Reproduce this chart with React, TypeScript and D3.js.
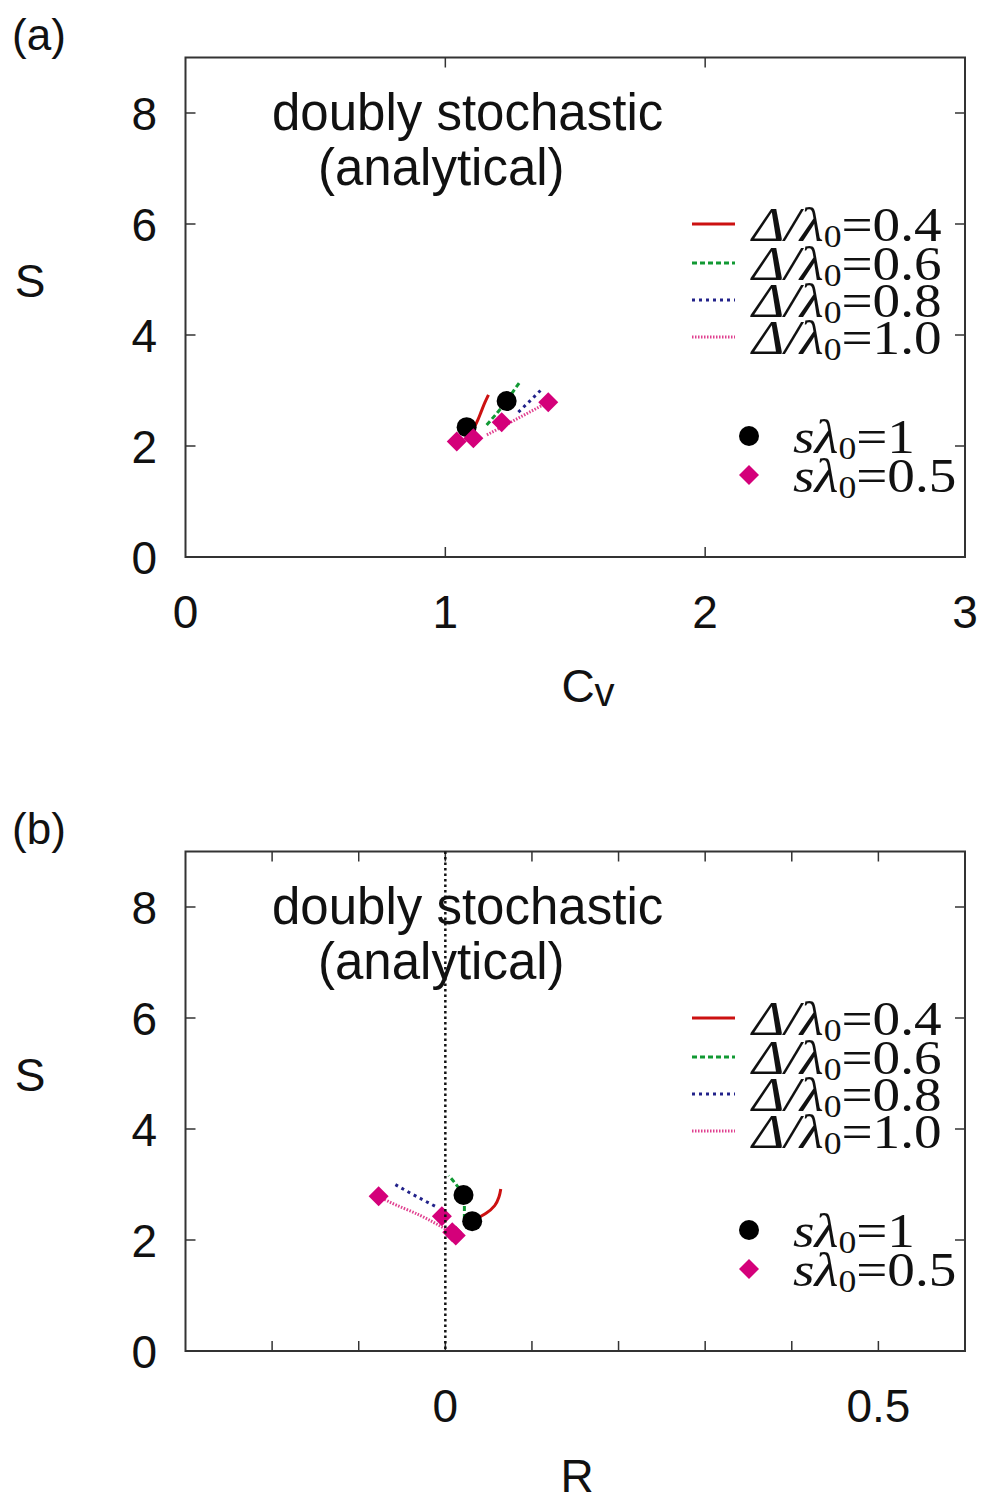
import React from "react";
import * as d3 from "d3";

// ---- data ----
const cvTicks = [0, 1, 2, 3];
const rLabelTicks = [0, 0.5];
const rMinorTicks = [-0.2, -0.1, 0, 0.1, 0.2, 0.3, 0.4, 0.5];
const sTicks = [0, 2, 4, 6, 8];
const deltaLabels = ["0.4", "0.6", "0.8", "1.0"];
const sLambdaLabels = ["1", "0.5"];

// curves (Δ/λ0 = 0.4, 0.6, 0.8, 1.0): Cv, R, S
const red_Cv = [1.114, 1.126, 1.138, 1.152, 1.166];
const red_R = [0.033, 0.047, 0.057, 0.062, 0.064];
const red_S = [2.36, 2.48, 2.62, 2.78, 2.92];

const green_Cv = [1.159, 1.2, 1.236, 1.262, 1.288];
const green_R = [0.022, 0.022, 0.021, 0.013, 0.004];
const green_S = [2.38, 2.6, 2.81, 2.99, 3.16];

const blue_Cv = [1.281, 1.323, 1.366];
const blue_R = [-0.012, -0.035, -0.058];
const blue_S = [2.61, 2.8, 3.0];

const pink_Cv = [1.16, 1.26, 1.356, 1.396];
const pink_R = [0.0, -0.03, -0.065, -0.077];
const pink_S = [2.2, 2.45, 2.69, 2.79];

// markers: sλ0 = 1 (circles), sλ0 = 0.5 (diamonds)
const circ_Cv = [1.082, 1.236];
const circ_R = [0.031, 0.021];
const circ_S = [2.34, 2.81];

const diam_Cv = [1.044, 1.108, 1.217, 1.396];
const diam_R = [0.012, 0.008, -0.004, -0.077];
const diam_S = [2.08, 2.14, 2.43, 2.79];

// ---- styles ----
const curveStyles = [
  { color: "#cc1111", dash: "none" },
  { color: "#119933", dash: "5,3" },
  { color: "#22228a", dash: "3,4" },
  { color: "#e0408f", dash: "1.5,1.5" },
];
const DIAM = "#d4007a";
const SANS = "'Liberation Sans', Arial, sans-serif";
const SERIF = "'Liberation Serif', 'Times New Roman', serif";

type PanelProps = {
  off: number;
  letter: string;
  mode: "cv" | "r";
};

function Panel({ off, letter, mode }: PanelProps) {
  const L = 185.5, R = 965, T = 57.5 + off, B = 557 + off;
  const x =
    mode === "cv"
      ? d3.scaleLinear().domain([0, 3]).range([L, R])
      : d3.scaleLinear().domain([-0.3, 0.6]).range([L, R]);
  const y = d3.scaleLinear().domain([0, 9]).range([B, T]);

  const curves =
    mode === "cv"
      ? [
          [red_Cv, red_S],
          [green_Cv, green_S],
          [blue_Cv, blue_S],
          [pink_Cv, pink_S],
        ]
      : [
          [red_R, red_S],
          [green_R, green_S],
          [blue_R, blue_S],
          [pink_R, pink_S],
        ];
  const line = d3
    .line<[number, number]>()
    .x((d) => x(d[0]))
    .y((d) => y(d[1]))
    .curve(d3.curveMonotoneY);

  const cx = mode === "cv" ? circ_Cv : circ_R;
  const dx = mode === "cv" ? diam_Cv : diam_R;

  const xTickVals = mode === "cv" ? [1, 2] : rMinorTicks;
  const xLabelVals = mode === "cv" ? cvTicks : rLabelTicks;
  const tickLen = 10;
  const frame = "#333";

  const legY = [224, 263, 300, 337].map((v) => v + off);
  const mkY = [436, 475].map((v) => v + off);

  const dPath = (px: number, py: number, h: number) =>
    `M${px},${py - h}L${px + h},${py}L${px},${py + h}L${px - h},${py}Z`;

  return (
    <g>
      <text x={12} y={50 + off} fontFamily={SANS} fontSize={44} fill="#111">
        ({letter})
      </text>
      {/* title */}
      <text x={272} y={130 + off} fontFamily={SANS} fontSize={51} fill="#111">
        doubly stochastic
      </text>
      <text x={318} y={185 + off} fontFamily={SANS} fontSize={51} fill="#111">
        (analytical)
      </text>

      {/* frame and ticks */}
      <rect x={L} y={T} width={R - L} height={B - T} fill="none" stroke={frame} strokeWidth={2} />
      {xTickVals.map((v) => (
        <g key={"xt" + v}>
          <line x1={x(v)} x2={x(v)} y1={B} y2={B - tickLen} stroke={frame} strokeWidth={1.5} />
          <line x1={x(v)} x2={x(v)} y1={T} y2={T + tickLen} stroke={frame} strokeWidth={1.5} />
        </g>
      ))}
      {sTicks
        .filter((v) => v > 0)
        .map((v) => (
          <g key={"yt" + v}>
            <line x1={L} x2={L + tickLen} y1={y(v)} y2={y(v)} stroke={frame} strokeWidth={1.5} />
            <line x1={R} x2={R - tickLen} y1={y(v)} y2={y(v)} stroke={frame} strokeWidth={1.5} />
          </g>
        ))}
      {sTicks.map((v) => (
        <text
          key={"yl" + v}
          x={157}
          y={y(v)}
          dy="0.36em"
          textAnchor="end"
          fontFamily={SANS}
          fontSize={46}
          fill="#111"
        >
          {v}
        </text>
      ))}
      {xLabelVals.map((v) => (
        <text
          key={"xl" + v}
          x={x(v)}
          y={628 + off}
          textAnchor="middle"
          fontFamily={SANS}
          fontSize={46}
          fill="#111"
        >
          {v}
        </text>
      ))}
      {/* axis labels */}
      <text x={30} y={297 + off} textAnchor="middle" fontFamily={SANS} fontSize={46} fill="#111">
        S
      </text>
      {mode === "cv" ? (
        <text x={588} y={702 + off} textAnchor="middle" fontFamily={SANS} fontSize={46} fill="#111">
          C<tspan fontSize={40} dy={4}>v</tspan>
        </text>
      ) : (
        <text x={577} y={1492} textAnchor="middle" fontFamily={SANS} fontSize={46} fill="#111">
          R
        </text>
      )}

      {/* curves */}
      {curves.map((c, i) => {
        const pts = c[0].map((v, k) => [v, c[1][k]] as [number, number]);
        return (
          <path
            key={"c" + i}
            d={line(pts) || ""}
            fill="none"
            stroke={curveStyles[i].color}
            strokeWidth={3}
            strokeDasharray={curveStyles[i].dash}
          />
        );
      })}
      {/* markers */}
      {cx.map((v, i) => (
        <circle key={"ci" + i} cx={x(v)} cy={y(circ_S[i])} r={10} fill="#000" />
      ))}
      {dx.map((v, i) => (
        <path key={"di" + i} d={dPath(x(v), y(diam_S[i]), 10)} fill={DIAM} />
      ))}

      {mode === "r" && (
        <line
          x1={x(0)}
          x2={x(0)}
          y1={T}
          y2={B}
          stroke="#111"
          strokeWidth={2.5}
          strokeDasharray="2.5,3"
        />
      )}

      {/* legend */}
      {deltaLabels.map((lab, i) => (
        <g key={"lg" + i}>
          <line
            x1={692}
            x2={735}
            y1={legY[i]}
            y2={legY[i]}
            stroke={curveStyles[i].color}
            strokeWidth={3}
            strokeDasharray={curveStyles[i].dash}
          />
          <g transform={`translate(752,${legY[i] + 17}) scale(1.15,1)`}>
            <text x={0} y={0} fontFamily={SERIF} fontSize={48} fill="#111">
              <tspan fontStyle="italic">Δ/λ</tspan>
              <tspan fontSize={31} dy={6}>0</tspan>
              <tspan dy={-6}>={lab}</tspan>
            </text>
          </g>
        </g>
      ))}
      <circle cx={749} cy={mkY[0]} r={10} fill="#000" />
      <path d={dPath(749, mkY[1], 10)} fill={DIAM} />
      {sLambdaLabels.map((lab, i) => (
        <g key={"sl" + i} transform={`translate(793,${mkY[i] + 17}) scale(1.15,1)`}>
          <text x={0} y={0} fontFamily={SERIF} fontSize={48} fill="#111">
            <tspan fontStyle="italic">sλ</tspan>
            <tspan fontSize={31} dy={6}>0</tspan>
            <tspan dy={-6}>={lab}</tspan>
          </text>
        </g>
      ))}
    </g>
  );
}

export default function App() {
  return (
    <svg
      width={982}
      height={1500}
      style={{ position: "absolute", left: 0, top: 0, background: "#fff" }}
    >
      <rect x={0} y={0} width={982} height={1500} fill="#fff" />
      <Panel off={0} letter="a" mode="cv" />
      <Panel off={794} letter="b" mode="r" />
    </svg>
  );
}
